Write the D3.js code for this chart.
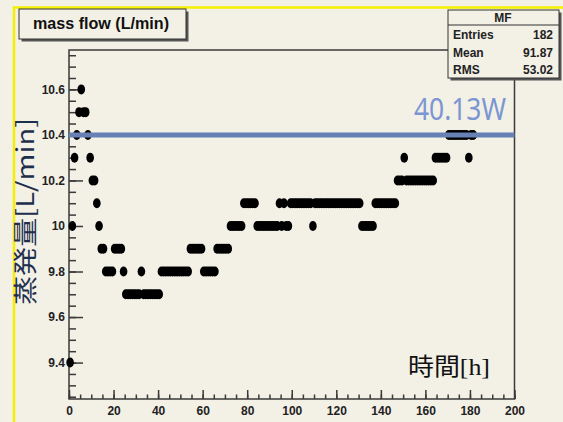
<!DOCTYPE html>
<html>
<head>
<meta charset="utf-8">
<script src="https://cdn.jsdelivr.net/npm/d3@7"></script>
<style>
  html, body { margin: 0; padding: 0; background: #f3f0e6; }
  svg { display: block; }
</style>
</head>
<body>
<div id="chart"></div>
<script>
// one reading per hour, hour = index
const flowValues = [
    9.4, 10.0, 10.3, 10.4, 10.5, 10.6, 10.5, 10.5, 10.4, 10.3,
    10.2, 10.2, 10.1, 10.0, 9.9, 9.9, 9.8, 9.8, 9.8, 9.8,
    9.9, 9.9, 9.9, 9.9, 9.8, 9.7, 9.7, 9.7, 9.7, 9.7,
    9.7, 9.7, 9.8, 9.7, 9.7, 9.7, 9.7, 9.7, 9.7, 9.7,
    9.7, 9.8, 9.8, 9.8, 9.8, 9.8, 9.8, 9.8, 9.8, 9.8,
    9.8, 9.8, 9.8, 9.8, 9.9, 9.9, 9.9, 9.9, 9.9, 9.9,
    9.8, 9.8, 9.8, 9.8, 9.8, 9.8, 9.9, 9.9, 9.9, 9.9,
    9.9, 9.9, 10.0, 10.0, 10.0, 10.0, 10.0, 10.0, 10.1, 10.1,
    10.1, 10.1, 10.1, 10.1, 10.0, 10.0, 10.0, 10.0, 10.0, 10.0,
    10.0, 10.0, 10.0, 10.0, 10.1, 10.0, 10.1, 10.0, 10.0, 10.1,
    10.1, 10.1, 10.1, 10.1, 10.1, 10.1, 10.1, 10.1, 10.1, 10.0,
    10.1, 10.1, 10.1, 10.1, 10.1, 10.1, 10.1, 10.1, 10.1, 10.1,
    10.1, 10.1, 10.1, 10.1, 10.1, 10.1, 10.1, 10.1, 10.1, 10.1,
    10.1, 10.0, 10.0, 10.0, 10.0, 10.0, 10.0, 10.1, 10.1, 10.1,
    10.1, 10.1, 10.1, 10.1, 10.1, 10.1, 10.1, 10.2, 10.2, 10.2,
    10.3, 10.2, 10.2, 10.2, 10.2, 10.2, 10.2, 10.2, 10.2, 10.2,
    10.2, 10.2, 10.2, 10.2, 10.3, 10.3, 10.3, 10.3, 10.3, 10.3,
    10.4, 10.4, 10.4, 10.4, 10.4, 10.4, 10.4, 10.4, 10.4, 10.3,
    10.4, 10.4
];

const xTicks = [0, 20, 40, 60, 80, 100, 120, 140, 160, 180, 200];
const yTicks = [9.4, 9.6, 9.8, 10, 10.2, 10.4, 10.6];
const xDomain = [0, 200];
const yDomain = [9.24, 10.773];

const thresholdValue = 10.4;
const thresholdLabel = "40.13W";

const titleText = "mass flow (L/min)";
const statsName = "MF";
const statsLabels = ["Entries", "Mean", "RMS"];
const statsValues = ["182", "91.87", "53.02"];

const yLabel = "蒸発量[L/min]";
const xLabel = "時間[h]";

const W = 563, H = 422;
const frame = {left: 69, right: 514.5, top: 50, bottom: 399};

function createChart() {
    const svg = d3.select("#chart")
        .append("svg")
        .attr("width", W)
        .attr("height", H);

    svg.append("rect")
        .attr("width", W).attr("height", H)
        .attr("fill", "#f3f0e6");

    // yellow canvas border
    svg.append("path")
        .attr("d", "M14,440 L14,7.5 L570,7.5")
        .attr("fill", "none")
        .attr("stroke", "#f5f000")
        .attr("stroke-width", 2.5);

    const x = d3.scaleLinear().domain(xDomain).range([frame.left, frame.right]);
    const y = d3.scaleLinear().domain(yDomain).range([frame.bottom, frame.top]);

    // frame
    svg.append("rect")
        .attr("x", frame.left).attr("y", frame.top)
        .attr("width", frame.right - frame.left)
        .attr("height", frame.bottom - frame.top)
        .attr("fill", "none")
        .attr("stroke", "#3a3a3a")
        .attr("stroke-width", 1.5);

    const labelFont = sel => sel
        .attr("font-family", "Liberation Sans, Arial, sans-serif")
        .attr("font-weight", "bold")
        .attr("font-size", 12)
        .attr("fill", "#222");

    // Y as
    svg.append("g")
        .attr("transform", "translate(" + frame.left + ",0)")
        .call(d3.axisLeft(y).tickValues(d3.range(9.25, 10.77, 0.05)).tickSize(-7).tickFormat(""))
        .call(g => g.select(".domain").remove());
    svg.append("g")
        .attr("transform", "translate(" + frame.left + ",0)")
        .call(d3.axisLeft(y).tickValues(yTicks).tickSize(-14).tickPadding(4).tickFormat(d => String(d)))
        .call(g => g.select(".domain").remove())
        .selectAll("text")
        .call(labelFont);

    // X as
    svg.append("g")
        .attr("transform", "translate(0," + frame.bottom + ")")
        .call(d3.axisBottom(x).tickValues(d3.range(0, 201, 5)).tickSize(-4.5).tickFormat(""))
        .call(g => g.select(".domain").remove());
    svg.append("g")
        .attr("transform", "translate(0," + frame.bottom + ")")
        .call(d3.axisBottom(x).tickValues(xTicks).tickSize(-9).tickPadding(7))
        .call(g => g.select(".domain").remove())
        .selectAll("text")
        .call(labelFont);

    svg.selectAll(".tick line")
        .attr("stroke", "#3a3a3a")
        .attr("stroke-width", 1.5);

    // punten
    svg.append("g")
        .selectAll("ellipse")
        .data(flowValues)
        .join("ellipse")
        .attr("cx", (d, i) => x(i + 0.5))
        .attr("cy", d => y(d))
        .attr("rx", 3.8)
        .attr("ry", 5)
        .attr("fill", "#000");

    // threshold line
    svg.append("line")
        .attr("x1", x(xDomain[0])).attr("x2", x(xDomain[1]))
        .attr("y1", y(thresholdValue)).attr("y2", y(thresholdValue))
        .attr("stroke", "#6780b6")
        .attr("stroke-width", 5);

    svg.append("text")
        .attr("x", 506).attr("y", 120)
        .attr("text-anchor", "end")
        .attr("font-family", "Noto Sans, sans-serif")
        .attr("font-size", 30)
        .attr("textLength", 92)
        .attr("lengthAdjust", "spacingAndGlyphs")
        .attr("fill", "#7b96d2")
        .text(thresholdLabel);

    // title box
    svg.append("rect")
        .attr("x", 21.5).attr("y", 11.5).attr("width", 167).attr("height", 30)
        .attr("fill", "#555");
    svg.append("rect")
        .attr("x", 19).attr("y", 9).attr("width", 167).attr("height", 30)
        .attr("fill", "#f3f0e6").attr("stroke", "#333").attr("stroke-width", 1);
    svg.append("text")
        .attr("x", 101).attr("y", 29)
        .attr("text-anchor", "middle")
        .attr("font-family", "Liberation Sans, Arial, sans-serif")
        .attr("font-weight", "bold")
        .attr("font-size", 16)
        .attr("textLength", 136)
        .attr("lengthAdjust", "spacingAndGlyphs")
        .attr("fill", "#111")
        .text(titleText);

    // stats box
    svg.append("rect")
        .attr("x", 450.5).attr("y", 12.5).attr("width", 111).attr("height", 68)
        .attr("fill", "#555");
    svg.append("rect")
        .attr("x", 448).attr("y", 10).attr("width", 111).attr("height", 68)
        .attr("fill", "#f3f0e6").attr("stroke", "#333").attr("stroke-width", 1);
    svg.append("line")
        .attr("x1", 448).attr("x2", 559).attr("y1", 25).attr("y2", 25)
        .attr("stroke", "#333");
    svg.append("text")
        .attr("x", 503).attr("y", 22)
        .attr("text-anchor", "middle")
        .call(labelFont)
        .text(statsName);
    statsLabels.forEach((label, i) => {
        svg.append("text")
            .attr("x", 453).attr("y", 39 + i * 17.5)
            .call(labelFont)
            .text(label);
        svg.append("text")
            .attr("x", 553).attr("y", 39 + i * 17.5)
            .attr("text-anchor", "end")
            .call(labelFont)
            .text(statsValues[i]);
    });

    // as labels
    svg.append("text")
        .attr("transform", "translate(34,211.5) rotate(-90)")
        .attr("text-anchor", "middle")
        .attr("font-family", "Noto Sans CJK JP, sans-serif")
        .attr("font-size", 24)
        .attr("textLength", 187)
        .attr("lengthAdjust", "spacingAndGlyphs")
        .attr("fill", "#1e2f4d")
        .text(yLabel);

    svg.append("text")
        .attr("x", 408).attr("y", 375)
        .attr("font-family", "Liberation Serif, Noto Sans CJK JP, serif")
        .attr("font-size", 24)
        .attr("textLength", 82)
        .attr("lengthAdjust", "spacingAndGlyphs")
        .attr("fill", "#111")
        .text(xLabel);
}

createChart();
</script>
</body>
</html>
